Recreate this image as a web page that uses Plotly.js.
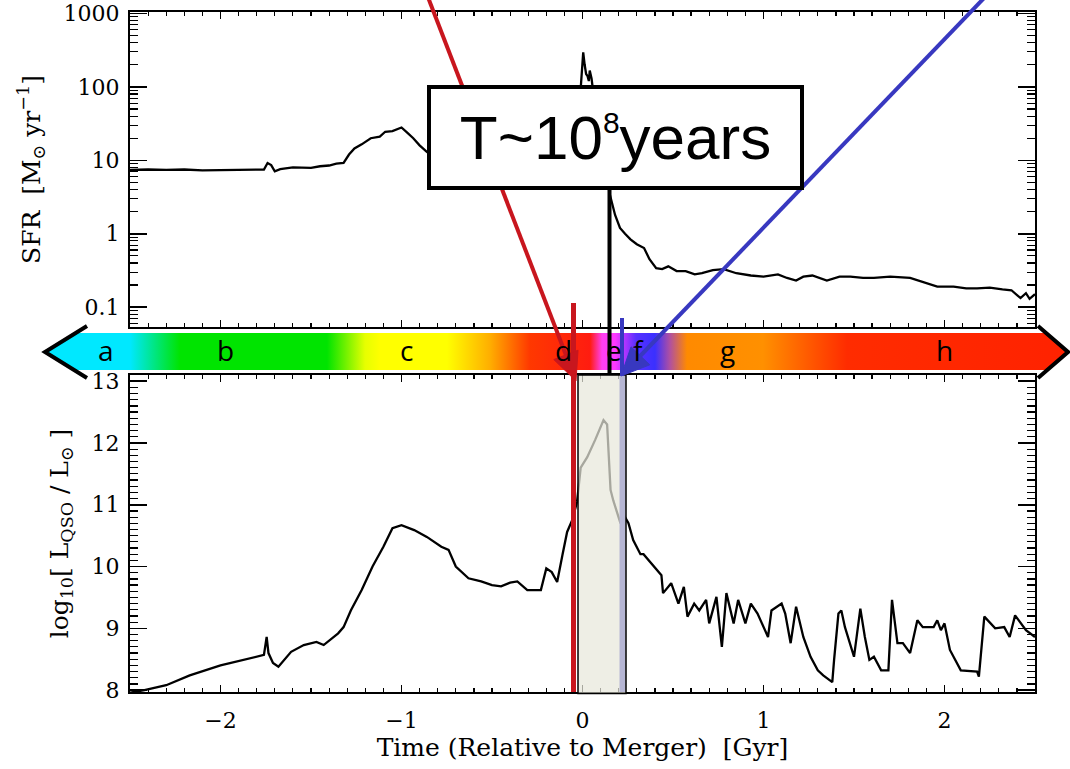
<!DOCTYPE html>
<html><head><meta charset="utf-8">
<script src="https://cdn.plot.ly/plotly-3.0.1.min.js"></script>
<style>html,body{margin:0;padding:0;background:#fff;} #chart{width:1070px;height:769px;}</style>
</head><body><div id="chart"></div>
<script>
// ---------------- data ----------------
const timeSFR = [-2.50,-2.40,-2.30,-2.20,-2.10,-2.00,-1.90,-1.80,-1.76,-1.74,-1.72,-1.70,-1.67,-1.60,-1.50,-1.45,-1.40,-1.36,-1.32,-1.29,-1.26,-1.22,-1.17,-1.12,-1.09,-1.05,-1.00,-0.97,-0.935,-0.90,-0.86,-0.83,
  -0.70,-0.50,-0.30,-0.15,-0.05,-0.01,-0.002,0.004,0.012,0.02,0.028,0.035,0.04,0.05,0.058,0.08,0.11,0.14,0.15,0.18,0.207,0.235,0.265,0.30,0.34,0.37,0.407,0.44,0.474,0.52,0.57,0.62,0.66,0.72,0.78,0.85,0.93,1.00,1.08,1.13,1.18,1.22,1.27,1.35,1.42,1.48,1.55,1.61,1.70,1.81,1.88,1.96,2.05,2.12,2.18,2.25,2.32,2.37,2.42,2.45,2.47,2.50];
const sfrValues = [7.4,7.5,7.4,7.5,7.3,7.4,7.4,7.5,7.5,9.2,8.6,7.1,7.6,8.0,7.9,8.3,8.5,9.0,9.2,12,14.5,16.5,20,21,24.5,25,28,24,20,16,13,11.5,
  10,9.5,11,18,40,95,180,295,200,150,140,120,167,130,90,40,12,5,3.5,1.8,1.2,1.0,0.84,0.72,0.64,0.45,0.34,0.33,0.36,0.31,0.31,0.28,0.29,0.32,0.33,0.29,0.27,0.26,0.28,0.25,0.23,0.26,0.27,0.23,0.26,0.26,0.25,0.25,0.26,0.25,0.22,0.19,0.19,0.18,0.18,0.185,0.175,0.17,0.133,0.155,0.13,0.15];

const timeQSO = [-2.50,-2.42,-2.30,-2.17,-2.00,-1.88,-1.76,-1.745,-1.735,-1.71,-1.68,-1.61,-1.54,-1.47,-1.43,-1.35,-1.32,-1.28,-1.22,-1.16,-1.10,-1.05,-1.00,-0.93,-0.86,-0.78,-0.74,-0.70,-0.63,-0.56,-0.50,-0.45,-0.40,-0.36,-0.305,-0.23,-0.20,-0.17,-0.14,-0.11,-0.085,-0.057,-0.03,-0.01,0.026,0.07,0.116,0.136,0.155,0.17,0.21,0.235,0.254,0.28,0.32,0.337,0.41,0.436,0.445,0.49,0.53,0.56,0.58,0.617,0.645,0.683,0.70,0.74,0.77,0.795,0.835,0.86,0.90,0.93,0.967,1.025,1.044,1.10,1.12,1.15,1.18,1.22,1.26,1.30,1.33,1.38,1.39,1.414,1.43,1.45,1.50,1.535,1.56,1.585,1.61,1.65,1.69,1.71,1.74,1.77,1.81,1.85,1.88,1.94,1.96,1.98,2.00,2.03,2.09,2.18,2.19,2.22,2.28,2.33,2.36,2.39,2.45,2.50];
const logLQSO = [7.96,8.0,8.08,8.24,8.40,8.49,8.57,8.86,8.6,8.44,8.38,8.62,8.73,8.78,8.73,8.92,9.02,9.29,9.62,10.0,10.32,10.62,10.67,10.59,10.48,10.32,10.27,10.0,9.81,9.76,9.70,9.68,9.74,9.76,9.62,9.62,9.97,9.91,9.75,10.2,10.56,10.75,11.05,11.6,11.77,12.05,12.37,12.3,11.24,11.07,10.7,10.8,10.7,10.43,10.2,10.2,9.94,9.86,9.57,9.73,9.4,9.67,9.19,9.4,9.29,9.46,9.08,9.51,8.70,9.57,9.08,9.46,9.08,9.4,9.24,8.86,9.29,9.4,9.24,8.76,9.35,8.86,8.54,8.32,8.24,8.13,8.49,9.24,9.29,9.02,8.54,9.32,8.86,8.49,8.54,8.32,8.32,9.46,8.76,8.76,8.6,9.13,9.02,9.02,9.13,8.97,9.08,8.65,8.32,8.30,8.22,9.19,9.0,9.02,8.86,9.21,8.97,8.86];

const sfrTickVals = [0.1,1,10,100,1000];
const sfrTickText = ['0.1','1','10','100','1000'];
const phaseLetters = ['a','b','c','d','e','f','g','h'];
const boxLabel = 'T~10<sup><span style="font-size:30px">8</span></sup>years';

// ---------------- geometry helpers (pixels -> paper) ----------------
const W=1070, H=769, ML=130, MR=35, MT=12, MB=77;
const PW=W-ML-MR, PH=H-MT-MB;
const X = px => (px-ML)/PW;
const Y = py => (H-MB-py)/PH;
const P = (px,py) => `${X(px)},${Y(py)}`;

// phase label pixel positions (layout only)
const phaseLabelPx = [106,225,406,563,614,638,727,944];

// ---------------- gradient band image ----------------
function bandImage(){
  const y0=322, h=60;
  const c=document.createElement('canvas'); c.width=W; c.height=h;
  const g=c.getContext('2d');
  const stops=[[43,'#00e8ff'],[130,'#00e8ff'],[180,'#00e400'],[327,'#00e400'],[365,'#e6ff00'],[380,'#ffff00'],[447,'#ffff00'],[490,'#ffae00'],[530,'#ff3800'],[590,'#ff1c10'],[602,'#ff40f0'],[615,'#ff38ff'],[636,'#5830ff'],[655,'#3a30ff'],[670,'#b050a0'],[687,'#ff8a00'],[763,'#ff9000'],[847,'#ff2c00'],[1070,'#ff2200']];
  const grad=g.createLinearGradient(0,0,W,0);
  stops.forEach(s=>grad.addColorStop(s[0]/W,s[1]));
  g.save();
  g.beginPath(); g.rect(0,333-y0,W,370-333); g.clip();
  g.beginPath();
  g.moveTo(43,352-y0); g.lineTo(87,327-y0); g.lineTo(1038,327-y0); g.lineTo(1068,352-y0);
  g.lineTo(1038,378-y0); g.lineTo(87,378-y0); g.closePath();
  g.fillStyle=grad; g.fill();
  g.restore();
  return c.toDataURL('image/png');
}

// arrow: line from tail to head base + filled triangle head
function arrowShapes(tail, tip, color, width, len, halfw){
  const dx=tip[0]-tail[0], dy=tip[1]-tail[1], L=Math.hypot(dx,dy);
  const ux=dx/L, uy=dy/L, bx=tip[0]-len*ux, by=tip[1]-len*uy;
  const qx=-uy*halfw, qy=ux*halfw;
  return [
    {type:'line', xref:'paper', yref:'paper', x0:X(tail[0]), y0:Y(tail[1]), x1:X(bx+2*ux), y1:Y(by+2*uy), line:{color:color, width:width}, layer:'above'},
    {type:'path', xref:'paper', yref:'paper', path:`M${P(tip[0],tip[1])} L${P(bx+qx,by+qy)} L${P(bx-qx,by-qy)} Z`, fillcolor:color, line:{color:color, width:1}, layer:'above'}
  ];
}

const serif = 'DejaVu Serif, serif';
const axisCommon = {
  showline:true, linecolor:'black', linewidth:2, mirror:'ticks',
  ticks:'inside', tickcolor:'black', tickwidth:1.5,
  showgrid:false, zeroline:false,
  tickfont:{family:serif, size:22, color:'black'}
};
const minorLog=[]; for(let e=-2;e<=3;e++) for(let k=2;k<=9;k++) minorLog.push(k*Math.pow(10,e));

const traces = [
  {x:timeSFR, y:sfrValues, type:'scatter', mode:'lines', line:{color:'black', width:2.3}, xaxis:'x', yaxis:'y', hoverinfo:'skip', showlegend:false},
  {x:timeQSO, y:logLQSO, type:'scatter', mode:'lines', line:{color:'black', width:2.3}, xaxis:'x2', yaxis:'y2', hoverinfo:'skip', showlegend:false}
];

const redC='#c8161e', blueC='#3838c0';
const vline = (px, pyTop, pyBot, color, width) => ({type:'line', xref:'paper', yref:'paper', x0:X(px), x1:X(px), y0:Y(pyTop), y1:Y(pyBot), line:{color:color, width:width}, layer:'above'});

const shapes = [
  vline(622.5, 376, 692, blueC, 6),
  {type:'rect', xref:'paper', yref:'paper', x0:X(578), x1:X(626), y0:Y(375), y1:Y(693.5), fillcolor:'rgba(231,231,219,0.72)', line:{color:'black', width:1.5}, layer:'above'},
  vline(573.5, 303, 692, redC, 5),
  vline(622, 318, 376, blueC, 4),
  vline(609.5, 188, 374, 'black', 4),
  {type:'path', xref:'paper', yref:'paper', path:`M${P(87,326)} L${P(45,352)} L${P(87,378)}`, line:{color:'black', width:4}, layer:'above'},
  {type:'path', xref:'paper', yref:'paper', path:`M${P(1038,326)} L${P(1068,352)} L${P(1038,378)}`, line:{color:'black', width:4}, layer:'above'}
].concat(arrowShapes([427.5,-4],[576,381],redC,4,28,13))
 .concat(arrowShapes([986,-4],[621,376],blueC,4,28,13));

const annotations = [];
phaseLetters.forEach((t,i)=>annotations.push({xref:'paper', yref:'paper', x:X(phaseLabelPx[i]), y:Y(350), text:t, showarrow:false, xanchor:'center', yanchor:'middle', font:{family:'Open Sans, sans-serif', size:28, color:'black'}}));
annotations.push({xref:'paper', yref:'paper', x:X(615.5), y:Y(137.5), xanchor:'center', yanchor:'middle', text:boxLabel, showarrow:false, bgcolor:'white', bordercolor:'black', borderwidth:4, borderpad:2, width:365, height:93, font:{family:'Liberation Sans, Arial, sans-serif', size:62, color:'black'}});

const layout = {
  width:W, height:H,
  margin:{l:ML, r:MR, t:MT, b:MB},
  paper_bgcolor:'white', plot_bgcolor:'white',
  showlegend:false,
  xaxis: Object.assign({}, axisCommon, {domain:[0,1], anchor:'y', range:[-2.5,2.5], dtick:1, tick0:0, ticklen:7, showticklabels:false,
    minor:{ticks:'inside', dtick:0.1, tick0:0, ticklen:4, tickcolor:'black', tickwidth:1.2}}),
  yaxis: Object.assign({}, axisCommon, {domain:[Y(327),1], anchor:'x', type:'log', range:[-1.27,3.02], tickmode:'array', tickvals:sfrTickVals, ticktext:sfrTickText, ticklen:17, ticklabelstandoff:4,
    minor:{ticks:'inside', tickmode:'array', tickvals:minorLog, ticklen:8, tickcolor:'black', tickwidth:1.2},
    title:{text:'SFR  [M<sub>⊙</sub> yr<sup>−1</sup>]', font:{family:serif, size:25, color:'black'}, standoff:16}}),
  xaxis2: Object.assign({}, axisCommon, {domain:[0,1], anchor:'y2', range:[-2.5,2.5], dtick:1, tick0:0, ticklen:7, ticklabelstandoff:8,
    minor:{ticks:'inside', dtick:0.1, tick0:0, ticklen:4, tickcolor:'black', tickwidth:1.2},
    title:{text:'Time (Relative to Merger)  [Gyr]', font:{family:serif, size:25, color:'black'}, standoff:3}}),
  yaxis2: Object.assign({}, axisCommon, {domain:[0,Y(375)], anchor:'x2', range:[7.97,13.1], dtick:1, tick0:0, ticklen:17, ticklabelstandoff:4,
    minor:{ticks:'inside', dtick:0.1, tick0:0, ticklen:8, tickcolor:'black', tickwidth:1.2},
    title:{text:'log<sub>10</sub>[ L<sub>QSO</sub> / L<sub>⊙</sub> ]', font:{family:serif, size:25, color:'black'}, standoff:16}}),
  images:[{source:bandImage(), xref:'paper', yref:'paper', x:X(0), y:Y(322), sizex:W/PW, sizey:60/PH, xanchor:'left', yanchor:'top', sizing:'stretch', layer:'below'}],
  shapes:shapes,
  annotations:annotations
};

Plotly.newPlot('chart', traces, layout, {staticPlot:true, displayModeBar:false});
</script>
</body></html>
